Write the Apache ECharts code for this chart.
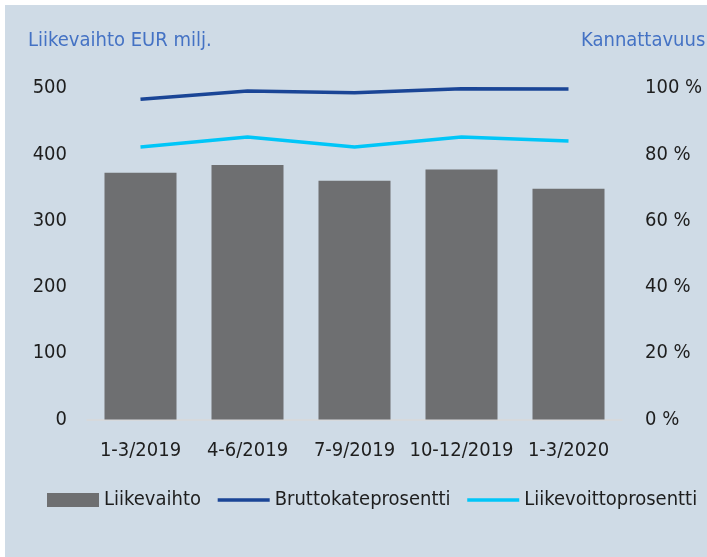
<!DOCTYPE html>
<html>
<head>
<meta charset="utf-8">
<script src="https://cdn.jsdelivr.net/npm/echarts@6/dist/echarts.min.js"></script>
<style>
  html, body { margin: 0; padding: 0; background: #ffffff; }
  #chart { width: 707px; height: 557px; }
</style>
</head>
<body>
<div id="chart"></div>
<script>
(function() {
  var bg = '#cfdbe6';
  var ink = '#1e1e1e';
  var blueTitle = '#4472c4';
  var barColor = '#6e6f71';
  var darkLine = '#1a4596';
  var lightLine = '#00c6f8';
  var font = '"DejaVu Sans Condensed", "Liberation Sans Narrow", sans-serif';

  // --- data ---
  var quarters = ['1-3/2019', '4-6/2019', '7-9/2019', '10-12/2019', '1-3/2020'];
  var liikevaihto = [372, 384, 360, 377, 348];
  var bruttokate = [96.6, 99.1, 98.6, 99.8, 99.7];
  var liikevoitto = [82.2, 85.2, 82.2, 85.2, 84.0];

  var chart = echarts.init(document.getElementById('chart'), null, { renderer: 'canvas' });
  chart.setOption({
    animation: false,
    textStyle: { fontFamily: font },
    graphic: [{
      type: 'rect',
      z: -100,
      silent: true,
      shape: { x: 5, y: 5, width: 702, height: 552 },
      style: { fill: bg }
    }],
    title: [
      {
        text: 'Liikevaihto EUR milj.',
        left: 28, top: 31,
        padding: 0,
        textStyle: { color: blueTitle, fontSize: 20, fontWeight: 'normal', fontFamily: font }
      },
      {
        text: 'Kannattavuus',
        left: 581, top: 31,
        padding: 0,
        textStyle: { color: blueTitle, fontSize: 20, fontWeight: 'normal', fontFamily: font }
      }
    ],
    legend: {
      left: 47,
      top: 490,
      padding: 0,
      itemWidth: 52,
      itemHeight: 14,
      itemGap: 15,
      textStyle: { color: ink, fontSize: 20, fontFamily: font },
      data: [
        { name: 'Liikevaihto', icon: 'rect' },
        { name: 'Bruttokateprosentti', itemStyle: { opacity: 0 }, lineStyle: { width: 3.5 } },
        { name: 'Liikevoittoprosentti', itemStyle: { opacity: 0 }, lineStyle: { width: 3.5 } }
      ]
    },
    grid: { left: 87, right: 85, top: 88, bottom: 137.5 },
    xAxis: {
      type: 'category',
      data: quarters,
      axisLine: { lineStyle: { color: '#d9d9d9', width: 1.5 } },
      axisTick: { show: false },
      axisLabel: { color: ink, fontSize: 20, margin: 21, interval: 0, fontFamily: font }
    },
    yAxis: [
      {
        type: 'value',
        min: 0, max: 500, interval: 100,
        axisLine: { show: false },
        axisTick: { show: false },
        splitLine: { show: false },
        axisLabel: { color: ink, fontSize: 20, margin: 20, fontFamily: font }
      },
      {
        type: 'value',
        min: 0, max: 100, interval: 20,
        position: 'right',
        axisLine: { show: false },
        axisTick: { show: false },
        splitLine: { show: false },
        axisLabel: { color: ink, fontSize: 20, margin: 23, formatter: '{value} %', fontFamily: font }
      }
    ],
    series: [
      {
        name: 'Liikevaihto',
        type: 'bar',
        data: liikevaihto,
        barWidth: 72,
        itemStyle: { color: barColor }
      },
      {
        name: 'Bruttokateprosentti',
        type: 'line',
        yAxisIndex: 1,
        data: bruttokate,
        symbol: 'none',
        lineStyle: { color: darkLine, width: 3.5 },
        itemStyle: { color: darkLine }
      },
      {
        name: 'Liikevoittoprosentti',
        type: 'line',
        yAxisIndex: 1,
        data: liikevoitto,
        symbol: 'none',
        lineStyle: { color: lightLine, width: 3.5 },
        itemStyle: { color: lightLine }
      }
    ]
  });
  window.addEventListener('resize', function() { chart.resize(); });
})();
</script>
</body>
</html>
